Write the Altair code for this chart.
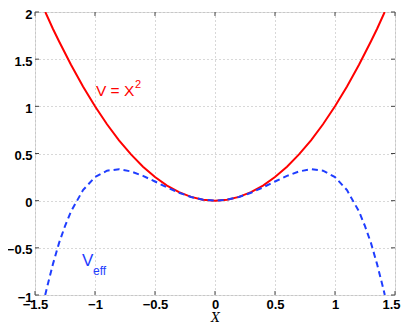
import altair as alt
import pandas as pd

# V = X^2
x_v = [-1.414, -1.35, -1.3, -1.2, -1.1, -1.0, -0.9, -0.8, -0.7, -0.6, -0.5, -0.4, -0.3, -0.2, -0.1, 0.0,
       0.1, 0.2, 0.3, 0.4, 0.5, 0.6, 0.7, 0.8, 0.9, 1.0, 1.1, 1.2, 1.3, 1.35, 1.414]
v_vals = [2.0, 1.82, 1.69, 1.44, 1.21, 1.0, 0.81, 0.64, 0.49, 0.36, 0.25, 0.16, 0.09, 0.04, 0.01, 0.0,
          0.01, 0.04, 0.09, 0.16, 0.25, 0.36, 0.49, 0.64, 0.81, 1.0, 1.21, 1.44, 1.69, 1.82, 2.0]

# V_eff
x_eff = [-1.415, -1.4, -1.35, -1.3, -1.25, -1.2, -1.1, -1.0, -0.9, -0.8, -0.7, -0.6, -0.5, -0.4, -0.3, -0.2, -0.1, 0.0,
         0.1, 0.2, 0.3, 0.4, 0.5, 0.6, 0.7, 0.8, 0.9, 1.0, 1.1, 1.2, 1.25, 1.3, 1.35, 1.4, 1.415]
eff_vals = [-1.0, -0.92, -0.67, -0.45, -0.27, -0.115, 0.112, 0.25, 0.318, 0.333, 0.31, 0.263, 0.203, 0.141, 0.084, 0.039, 0.01, 0.0,
            0.01, 0.039, 0.084, 0.141, 0.203, 0.263, 0.31, 0.333, 0.318, 0.25, 0.112, -0.115, -0.27, -0.45, -0.67, -0.92, -1.0]

x_ticks = [-1.5, -1, -0.5, 0, 0.5, 1, 1.5]
y_ticks = [-1, -0.5, 0, 0.5, 1, 1.5, 2]

RED = "#ff0000"
BLUE = "#1f3dff"
LABEL_FONT = "Liberation Sans"

df_v = pd.DataFrame({"x": x_v, "y": v_vals})
df_eff = pd.DataFrame({"x": x_eff, "y": eff_vals})
df_xt = pd.DataFrame({"t": x_ticks})
df_yt = pd.DataFrame({"t": y_ticks})

xs = alt.Scale(domain=[-1.5, 1.5], nice=False, zero=False)
ys = alt.Scale(domain=[-1, 2], nice=False, zero=False)

LBL = "replace(format(datum.value, '~g'), '-', '\u2212')"

x_axis = alt.Axis(values=x_ticks, grid=True, gridColor="#b0b0b0", gridDash=[1, 3], gridWidth=1,
                  tickSize=0, domain=False, labelFont=LABEL_FONT, labelFontWeight=700,
                  labelFontSize=13, labelColor="#000", labelPadding=3, labelFlush=False,
                  labelOffset={"condition": {"test": "datum.value >= 1.5", "value": -4}, "value": 0},
                  title="X", titleFont="DejaVu Serif", titleFontStyle="italic", titleFontWeight="normal",
                  titleFontSize=12, titleColor="#000", titleBaseline="alphabetic", titleY=26,
                  labelExpr=LBL)
y_axis = alt.Axis(values=y_ticks, grid=True, gridColor="#b0b0b0", gridDash=[1, 3], gridWidth=1,
                  tickSize=0, domain=False, labelFont=LABEL_FONT, labelFontWeight=700,
                  labelFontSize=13, labelColor="#000", labelPadding=3, labelFlush=False, title=None,
                  labelOffset=2, labelExpr=LBL)

base_axes = alt.Chart(df_v).mark_line(opacity=0).encode(
    x=alt.X("x:Q", scale=xs, axis=x_axis),
    y=alt.Y("y:Q", scale=ys, axis=y_axis),
)

red_line = alt.Chart(df_v).mark_line(color=RED, strokeWidth=2, clip=True).encode(
    x=alt.X("x:Q", scale=xs), y=alt.Y("y:Q", scale=ys))
blue_line = alt.Chart(df_eff).mark_line(color=BLUE, strokeWidth=2, strokeDash=[6, 4], clip=True).encode(
    x=alt.X("x:Q", scale=xs), y=alt.Y("y:Q", scale=ys))

TL = 4
tick_bottom = alt.Chart(df_xt).mark_rule(color="#444").encode(
    x=alt.X("t:Q", scale=xs), y=alt.value(283), y2=alt.value(283 - TL))
tick_top = alt.Chart(df_xt).mark_rule(color="#444").encode(
    x=alt.X("t:Q", scale=xs), y=alt.value(0), y2=alt.value(TL))
tick_left = alt.Chart(df_yt).mark_rule(color="#444").encode(
    y=alt.Y("t:Q", scale=ys), x=alt.value(0), x2=alt.value(TL))
tick_right = alt.Chart(df_yt).mark_rule(color="#444").encode(
    y=alt.Y("t:Q", scale=ys), x=alt.value(360), x2=alt.value(360 - TL))

def label(text, x, y, size, color):
    return alt.Chart(pd.DataFrame({"a": [0]})).mark_text(
        text=text, align="left", baseline="alphabetic", font=LABEL_FONT, fontSize=size, color=color
    ).encode(x=alt.datum(x, scale=xs), y=alt.datum(y, scale=ys))

lab1 = label("V = X", -0.992, 1.11, 15.5, RED)
lab1s = label("2", -0.667, 1.195, 11, RED)
lab2 = label("V", -1.108, -0.693, 17, BLUE)
lab2s = label("eff", -1.017, -0.79, 12, BLUE)

chart = alt.layer(
    base_axes, red_line, blue_line, tick_bottom, tick_top, tick_left, tick_right,
    lab1, lab1s, lab2, lab2s
).properties(
    width=360, height=283,
    autosize=alt.AutoSizeParams(type="none"),
    padding={"left": 27, "top": 4, "right": 6, "bottom": 28},
).configure_view(stroke="#444", strokeWidth=1).configure(background="white")

chart.save("out.html", embed_options={"renderer": "svg", "actions": False})
